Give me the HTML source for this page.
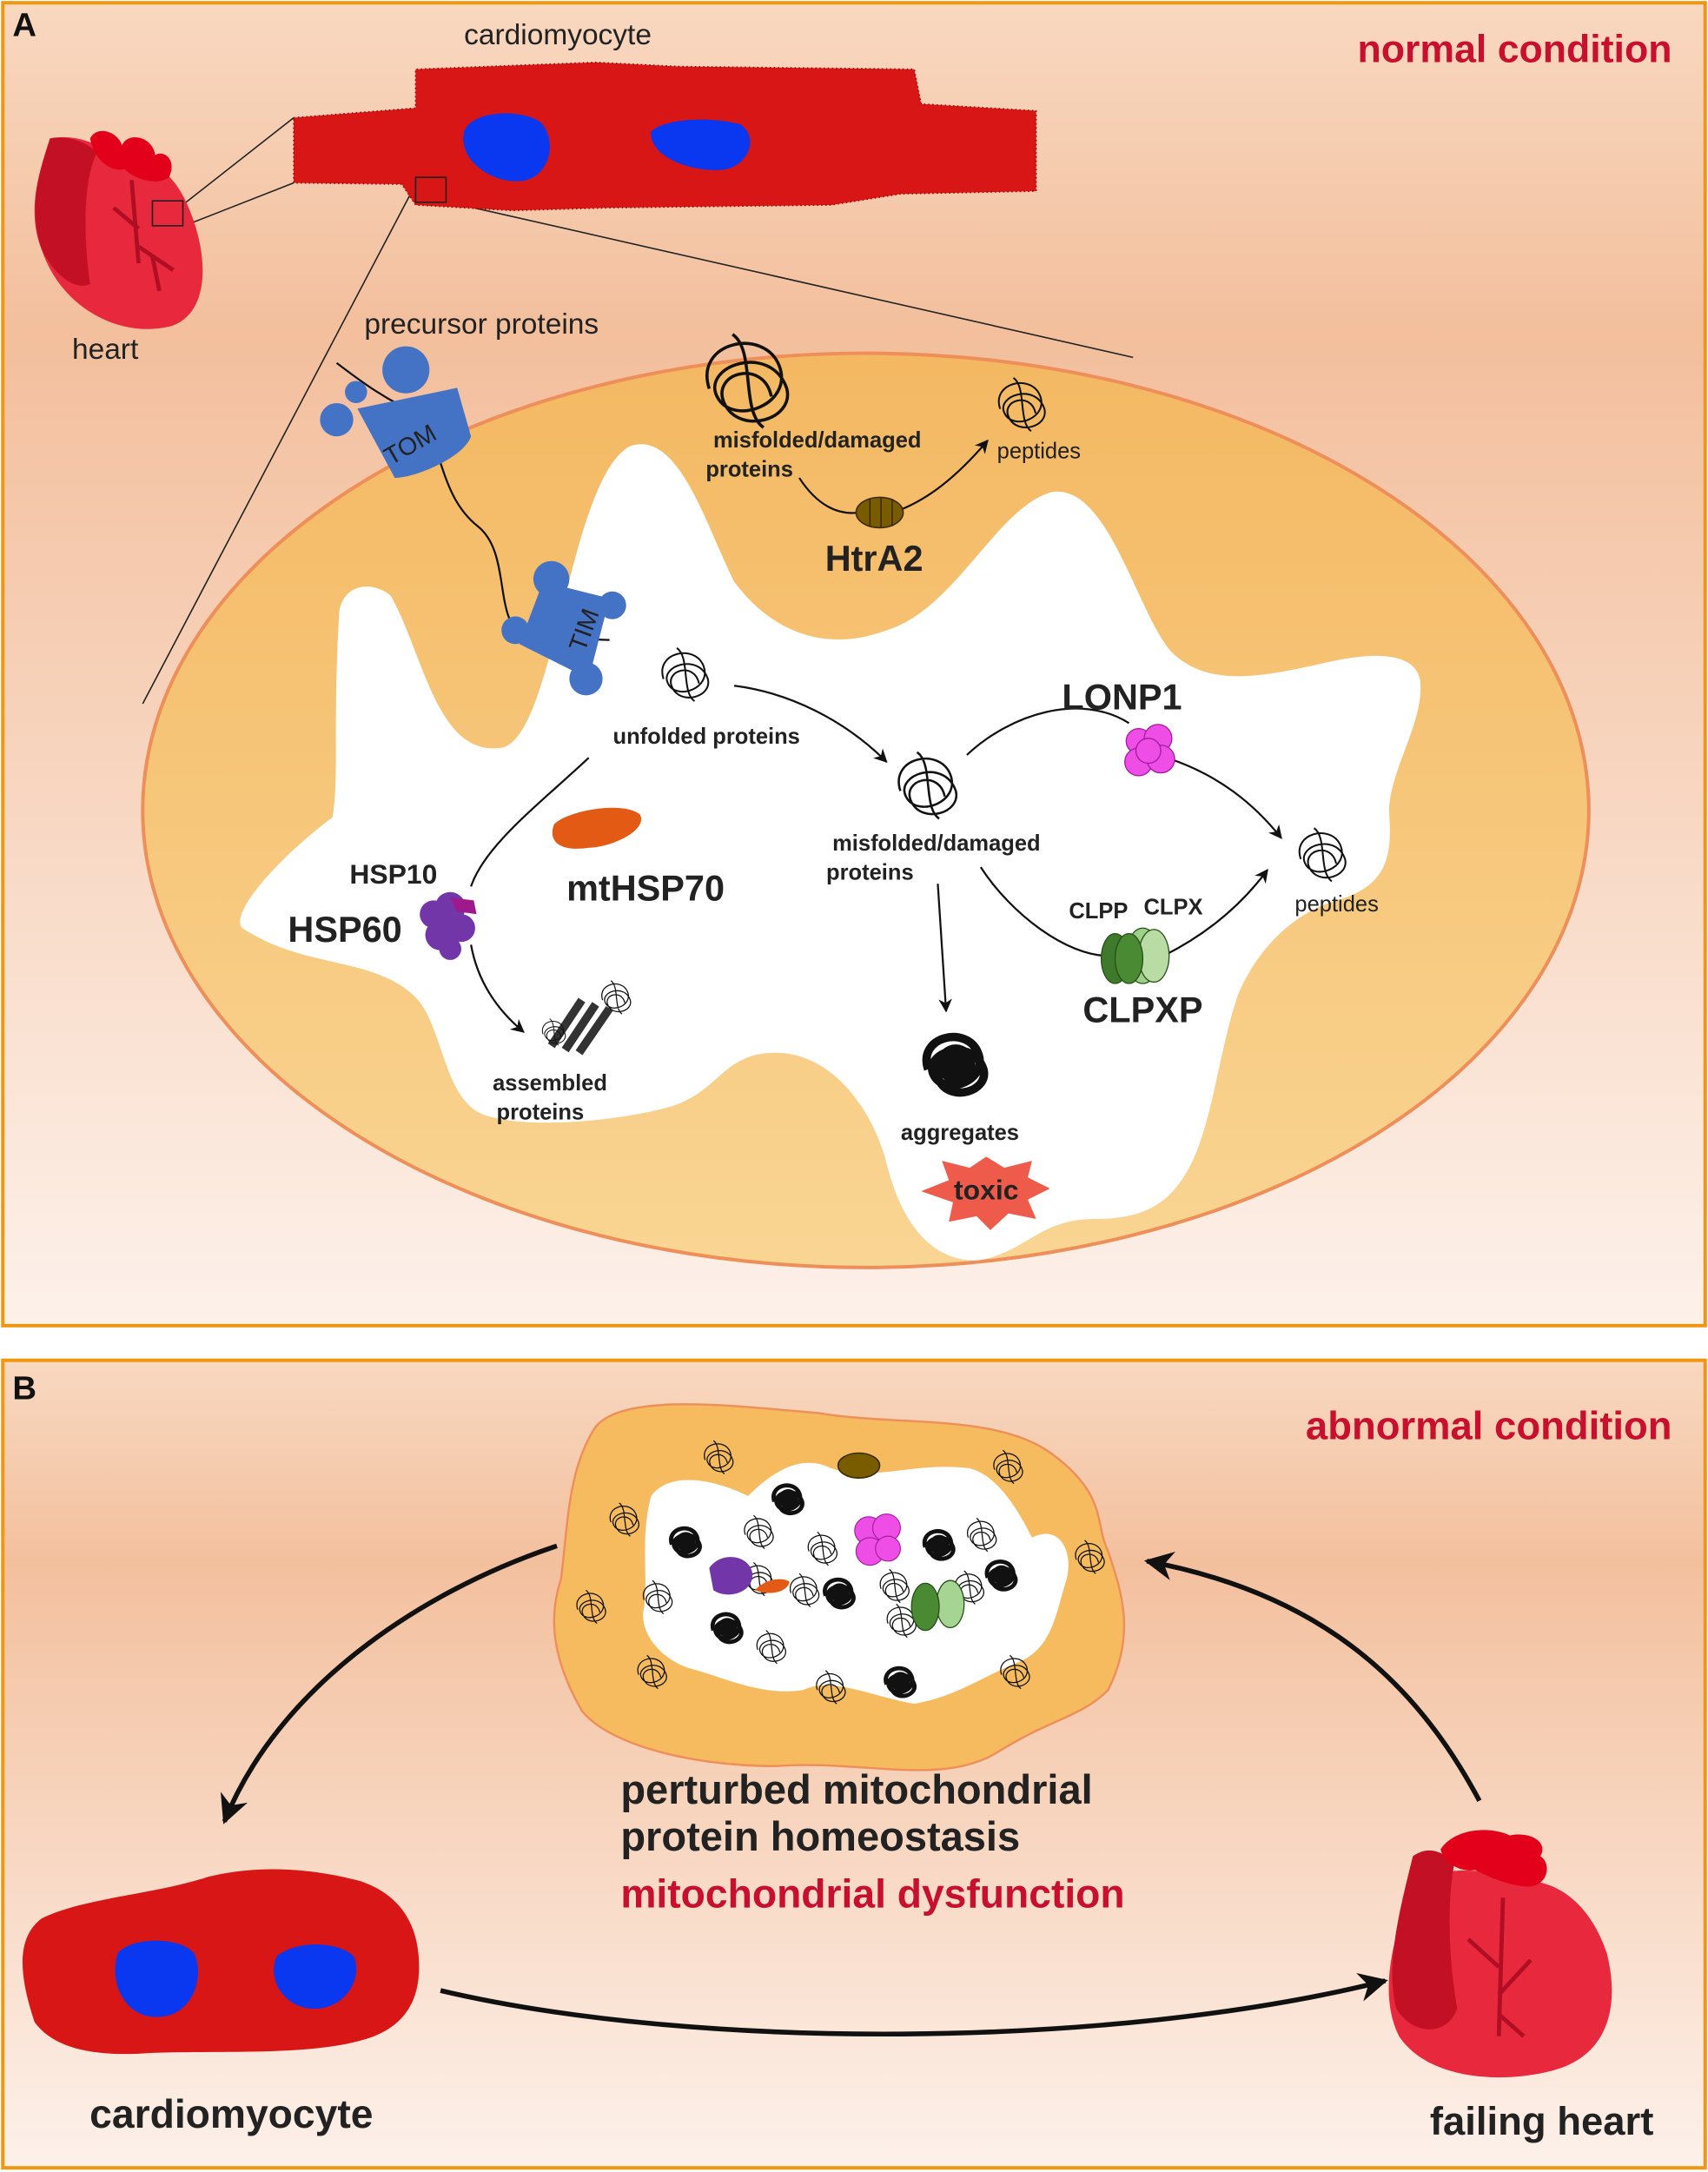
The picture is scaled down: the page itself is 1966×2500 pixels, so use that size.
<!DOCTYPE html>
<html><head><meta charset="utf-8"><style>html,body{margin:0;padding:0;background:#fff}svg{display:block}text{font-family:"Liberation Sans",Arial,sans-serif}</style></head>
<body>
<svg width="1966" height="2500" viewBox="0 0 1233 1568" xmlns="http://www.w3.org/2000/svg">
<defs>
<linearGradient id="bgA" x1="0" y1="0" x2="0" y2="1"><stop offset="0" stop-color="#f8d8c0"/><stop offset="0.25" stop-color="#f3bf9d"/><stop offset="1" stop-color="#fdf1ea"/></linearGradient>
<linearGradient id="bgB" x1="0" y1="0" x2="0" y2="1"><stop offset="0" stop-color="#f8d8c0"/><stop offset="0.25" stop-color="#f3c09e"/><stop offset="1" stop-color="#fdf1ea"/></linearGradient>
<linearGradient id="mito" x1="0" y1="0" x2="0" y2="1"><stop offset="0" stop-color="#f4b862"/><stop offset="1" stop-color="#f9d593"/></linearGradient>
<marker id="ar" viewBox="0 0 10 10" refX="9" refY="5" markerWidth="7" markerHeight="7" orient="auto"><path d="M0,0 L10,5 L0,10 L3,5z" fill="#111"/></marker>
<marker id="arB" viewBox="0 0 10 10" refX="9" refY="5" markerWidth="6" markerHeight="6" orient="auto"><path d="M0,0 L10,5 L0,10 L3,5z" fill="#111"/></marker>
<g id="tangle"><path d="M-10,2 C-14,-10 4,-14 8,-4 C12,6 -4,12 -8,4 C-12,-4 6,-10 10,2 C12,10 -2,14 -6,6 C-10,-2 4,-6 6,4 M-4,-12 C2,-8 -2,8 4,12" fill="none" stroke="#111" stroke-width="0.8"/></g>
<g id="agg"><path d="M-10,2 C-14,-10 4,-14 8,-4 C12,6 -4,12 -8,4 C-12,-4 6,-10 10,2 C12,10 -2,14 -6,6 C-10,-2 4,-6 6,4" fill="none" stroke="#111" stroke-width="3"/><circle r="7" fill="#111"/></g>
</defs>

<rect x="2" y="2" width="1229" height="955" fill="url(#bgA)" stroke="#f0960f" stroke-width="2.5"/>
<text x="9" y="26" font-size="24" font-weight="bold" fill="#111">A</text>
<text x="1207" y="45" font-size="28" font-weight="bold" fill="#c8102e" text-anchor="end">normal condition</text>

<line x1="300" y1="133" x2="103" y2="508" stroke="#222" stroke-width="1"/>
<line x1="320" y1="145" x2="818" y2="258" stroke="#222" stroke-width="1"/>
<line x1="212" y1="85" x2="133" y2="147" stroke="#222" stroke-width="1"/>
<line x1="212" y1="132" x2="133" y2="163" stroke="#222" stroke-width="1"/>

<g>
<path d="M36,100 C30,120 18,150 30,180 C45,225 90,245 125,235 C150,225 150,190 140,160 C130,130 115,115 95,118 C80,110 60,95 36,100z" fill="#e8283d"/>
<path d="M36,100 C28,125 20,150 30,180 C40,200 55,210 65,205 C60,170 60,130 70,110 C60,100 45,98 36,100z" fill="#c31024"/>
<path d="M65,100 C70,90 85,95 88,105 C92,95 110,98 112,112 C118,108 128,115 122,128 C112,135 95,128 90,122 C80,125 68,115 65,100z" fill="#e2001a"/>
<path d="M95,130 L100,190 M100,165 L82,150 M100,178 L125,195 M110,185 L115,210" stroke="#b00e22" stroke-width="3" fill="none"/>
<rect x="110" y="145" width="22" height="18" fill="none" stroke="#222" stroke-width="1"/>
</g>
<text x="52" y="259" font-size="21" fill="#222">heart</text>

<text x="335" y="32" font-size="21" fill="#222">cardiomyocyte</text>
<path d="M212,85 L300,78 L300,50 L430,45 L490,48 L660,50 L665,75 L748,80 L748,138 L650,140 L600,148 L440,150 L370,152 L300,148 L290,133 L212,132z" fill="#d81616"/>
<path d="M212,85 L300,78 L300,50 L430,45 L490,48 L660,50 L665,75 L748,80 L748,138 L650,140 L600,148 L440,150 L370,152 L300,148 L290,133 L212,132z" fill="none" stroke="#a00" stroke-width="1" stroke-dasharray="1 2"/>
<path d="M335,95 C340,80 375,78 390,88 C402,100 398,125 380,130 C360,135 330,118 335,95z" fill="#0a37f0"/>
<path d="M470,95 C480,85 515,84 535,90 C548,100 540,118 525,122 C505,126 468,115 470,95z" fill="#0a37f0"/>
<rect x="300" y="128" width="22" height="18" fill="none" stroke="#222" stroke-width="1"/>

<ellipse cx="625" cy="585" rx="522" ry="330" fill="url(#mito)" stroke="#ee8e58" stroke-width="2.5"/>
<path d="M245,440 C250,420 270,420 282,430 C305,470 315,545 360,540 C400,540 410,345 455,322 C490,310 510,380 530,420 C560,460 600,470 640,455 C690,440 720,365 760,355 C800,350 820,440 845,470 C870,495 905,490 950,480 C990,470 1020,470 1025,490 C1030,520 1000,560 1003,590 C1005,620 1000,640 965,650 C930,660 905,690 893,720 C880,760 875,810 860,840 C845,870 825,880 790,880 C750,880 740,905 705,910 C670,910 650,880 640,840 C630,800 600,760 560,760 C520,760 520,790 480,800 C440,810 380,815 350,805 C320,795 320,740 300,720 C270,690 220,700 175,670 C165,660 200,620 240,590 C245,560 240,520 245,440z" fill="#fff"/>

<text x="263" y="241" font-size="21" fill="#222">precursor proteins</text>
<path d="M243,262 C260,275 280,290 305,300 C320,330 320,360 345,380 C370,400 355,450 380,460 L440,462" fill="none" stroke="#111" stroke-width="1.4"/>
<g fill="#4472c4">
<circle cx="293" cy="267" r="17"/><circle cx="243" cy="303" r="12"/><circle cx="257" cy="283" r="8"/>
<path d="M258,295 L330,280 L340,315 C335,330 300,345 285,345 z"/>
<circle cx="398" cy="418" r="13"/><circle cx="442" cy="437" r="10"/><circle cx="372" cy="455" r="10"/><circle cx="423" cy="490" r="12"/>
<path d="M392,420 L440,432 L425,490 L375,465z"/>
</g>
<text x="275" y="330" font-size="18" fill="#222" transform="rotate(-30 290 320)">TOM</text>
<text x="400" y="470" font-size="18" fill="#222" transform="rotate(-70 412 455)">TIM</text>

<g transform="translate(540,275) scale(2.8)"><use href="#tangle"/></g>
<text x="590" y="323" font-size="16" font-weight="bold" fill="#222" text-anchor="middle">misfolded/damaged</text>
<text x="541" y="344" font-size="16" font-weight="bold" fill="#222" text-anchor="middle">proteins</text>
<path d="M577,345 C590,365 605,372 620,370" fill="none" stroke="#111" stroke-width="1.4"/>
<path d="M650,368 C670,360 690,345 713,318" fill="none" stroke="#111" stroke-width="1.4" marker-end="url(#ar)"/>
<ellipse cx="635" cy="370" rx="17" ry="11" fill="#7a5c00" stroke="#3a2a00"/>
<path d="M628,360 L628,380 M636,359 L636,381 M644,360 L644,380" stroke="#3a2a00"/>
<text x="631" y="412" font-size="26" font-weight="bold" fill="#222" text-anchor="middle">HtrA2</text>
<g transform="translate(738,292) scale(1.6)"><use href="#tangle"/></g>
<text x="750" y="331" font-size="16" fill="#222" text-anchor="middle">peptides</text>

<g transform="translate(495,487) scale(1.6)"><use href="#tangle"/></g>
<text x="510" y="537" font-size="16" font-weight="bold" fill="#222" text-anchor="middle">unfolded proteins</text>
<path d="M530,495 C570,500 610,520 640,550" fill="none" stroke="#111" stroke-width="1.4" marker-end="url(#ar)"/>
<path d="M425,547 C390,580 350,610 340,640" fill="none" stroke="#111" stroke-width="1.4"/>

<path d="M400,595 C410,585 450,578 462,588 C468,600 440,612 425,612 C405,615 395,608 400,595z" fill="#e35a14"/>
<text x="466" y="650" font-size="26" font-weight="bold" fill="#222" text-anchor="middle">mtHSP70</text>
<text x="284" y="638" font-size="20" font-weight="bold" fill="#222" text-anchor="middle">HSP10</text>
<text x="249" y="680" font-size="26" font-weight="bold" fill="#222" text-anchor="middle">HSP60</text>
<g fill="#7236a8"><circle cx="313" cy="660" r="10"/><circle cx="325" cy="655" r="11"/><circle cx="318" cy="675" r="11"/><circle cx="333" cy="670" r="10"/><circle cx="325" cy="685" r="8"/></g>
<path d="M325,648 L342,650 L344,660 L330,658z" fill="#9e1a8c"/>
<path d="M340,682 C345,710 360,730 378,745" fill="none" stroke="#111" stroke-width="1.4" marker-end="url(#ar)"/>
<g stroke="#333" stroke-width="6"><line x1="398" y1="755" x2="420" y2="722"/><line x1="408" y1="758" x2="430" y2="725"/><line x1="418" y1="760" x2="440" y2="728"/></g>
<g transform="translate(445,720)"><use href="#tangle"/></g><g transform="translate(400,745) scale(0.8)"><use href="#tangle"/></g>
<text x="397" y="787" font-size="16" font-weight="bold" fill="#222" text-anchor="middle">assembled</text>
<text x="390" y="808" font-size="16" font-weight="bold" fill="#222" text-anchor="middle">proteins</text>

<g transform="translate(670,567) scale(2)"><use href="#tangle"/></g>
<text x="676" y="614" font-size="16" font-weight="bold" fill="#222" text-anchor="middle">misfolded/damaged</text>
<text x="628" y="635" font-size="16" font-weight="bold" fill="#222" text-anchor="middle">proteins</text>
<path d="M698,545 C730,515 780,500 815,522" fill="none" stroke="#111" stroke-width="1.4"/>
<path d="M845,548 C880,560 905,580 925,605" fill="none" stroke="#111" stroke-width="1.4" marker-end="url(#ar)"/>
<path d="M708,626 C730,660 770,690 800,690" fill="none" stroke="#111" stroke-width="1.4"/>
<path d="M840,690 C870,675 895,655 915,628" fill="none" stroke="#111" stroke-width="1.4" marker-end="url(#ar)"/>
<path d="M677,638 L683,730" fill="none" stroke="#111" stroke-width="1.4" marker-end="url(#ar)"/>
<text x="810" y="512" font-size="26" font-weight="bold" fill="#222" text-anchor="middle">LONP1</text>
<g fill="#ef4ee6" stroke="#a01a9e" stroke-width="0.8"><circle cx="822" cy="535" r="9"/><circle cx="836" cy="533" r="10"/><circle cx="822" cy="550" r="10"/><circle cx="838" cy="548" r="10"/><circle cx="829" cy="542" r="9"/></g>
<g transform="translate(955,617) scale(1.6)"><use href="#tangle"/></g>
<text x="965" y="658" font-size="16" fill="#222" text-anchor="middle">peptides</text>
<text x="793" y="663" font-size="16" font-weight="bold" fill="#222" text-anchor="middle">CLPP</text>
<text x="847" y="660" font-size="16" font-weight="bold" fill="#222" text-anchor="middle">CLPX</text>
<g stroke="#234d16" stroke-width="0.8"><ellipse cx="825" cy="690" rx="12" ry="20" fill="#9fd08a"/><ellipse cx="833" cy="690" rx="11" ry="19" fill="#b8dca4"/><ellipse cx="805" cy="692" rx="10" ry="18" fill="#3f7a2c"/><ellipse cx="815" cy="692" rx="10" ry="18" fill="#4a8a33"/></g>
<text x="825" y="738" font-size="26" font-weight="bold" fill="#222" text-anchor="middle">CLPXP</text>
<g transform="translate(690,768) scale(2)"><use href="#agg"/></g>
<text x="693" y="823" font-size="16" font-weight="bold" fill="#222" text-anchor="middle">aggregates</text>
<path d="M712,835 L725,843 L745,838 L742,850 L758,858 L742,866 L748,880 L728,876 L715,888 L705,878 L685,882 L688,868 L665,860 L685,852 L680,838 L700,843z" fill="#ef5b4a"/>
<text x="712" y="866" font-size="20" font-weight="bold" fill="#222" text-anchor="middle">toxic</text>

<rect x="2" y="982" width="1229" height="583" fill="url(#bgB)" stroke="#f0960f" stroke-width="2.5"/>
<text x="9" y="1010" font-size="24" font-weight="bold" fill="#111">B</text>
<text x="1207" y="1039" font-size="28.5" font-weight="bold" fill="#c8102e" text-anchor="end">abnormal condition</text>

<path d="M430,1030 C450,1005 530,1015 590,1020 C650,1030 720,1020 760,1050 C800,1080 790,1100 800,1120 C810,1150 820,1180 800,1220 C780,1240 760,1240 720,1265 C680,1290 620,1270 560,1275 C500,1275 440,1260 420,1235 C400,1200 395,1170 405,1140 C410,1100 410,1060 430,1030z" fill="#f5bb5e" stroke="#ee8e58" stroke-width="1.5"/>
<path d="M470,1080 C485,1060 520,1070 540,1080 C560,1060 580,1050 600,1060 C630,1070 660,1055 700,1060 C720,1065 735,1090 745,1110 C765,1100 775,1120 770,1140 C762,1165 760,1190 735,1200 C710,1210 690,1225 660,1230 C630,1225 600,1210 580,1220 C550,1225 520,1210 500,1205 C480,1200 460,1180 465,1160 C468,1140 462,1110 470,1080z" fill="#fff"/>
<g>
<use href="#tangle" transform="translate(519,1052)"/><use href="#tangle" transform="translate(728,1059)"/><use href="#tangle" transform="translate(451,1097)"/><use href="#tangle" transform="translate(548,1106)"/><use href="#tangle" transform="translate(594,1118)"/><use href="#tangle" transform="translate(581,1148)"/><use href="#tangle" transform="translate(548,1140)"/><use href="#tangle" transform="translate(475,1153)"/><use href="#tangle" transform="translate(646,1145)"/><use href="#tangle" transform="translate(709,1108)"/><use href="#tangle" transform="translate(651,1170)"/><use href="#tangle" transform="translate(787,1124)"/><use href="#tangle" transform="translate(700,1146)"/><use href="#tangle" transform="translate(427,1160)"/><use href="#tangle" transform="translate(557,1189)"/><use href="#tangle" transform="translate(471,1207)"/><use href="#tangle" transform="translate(733,1207)"/><use href="#tangle" transform="translate(600,1218)"/>
<use href="#agg" transform="translate(569,1082)"/><use href="#agg" transform="translate(495,1113)"/><use href="#agg" transform="translate(678,1115)"/><use href="#agg" transform="translate(723,1137)"/><use href="#agg" transform="translate(606,1150)"/><use href="#agg" transform="translate(525,1175)"/><use href="#agg" transform="translate(650,1214)"/>
</g>
<ellipse cx="620" cy="1058" rx="15" ry="9" fill="#7a5c00" stroke="#3a2a00"/>
<g fill="#ef4ee6" stroke="#a01a9e" stroke-width="0.7"><circle cx="627" cy="1105" r="10"/><circle cx="640" cy="1103" r="10"/><circle cx="628" cy="1120" r="10"/><circle cx="641" cy="1118" r="9"/></g>
<g stroke="#234d16" stroke-width="0.8"><ellipse cx="686" cy="1158" rx="10" ry="17" fill="#a6d493"/><ellipse cx="668" cy="1160" rx="10" ry="17" fill="#4a8a33"/></g>
<path d="M512,1132 C520,1120 540,1122 543,1135 C545,1150 525,1155 515,1148z" fill="#7236a8"/>
<path d="M545,1148 C552,1140 565,1138 570,1142 C568,1150 555,1152 545,1148z" fill="#e35a14"/>

<text x="448" y="1302" font-size="29.5" font-weight="bold" fill="#222">perturbed mitochondrial</text>
<text x="448" y="1336" font-size="29.5" font-weight="bold" fill="#222">protein homeostasis</text>
<text x="448" y="1377" font-size="29" font-weight="bold" fill="#c8102e">mitochondrial dysfunction</text>

<path d="M402,1116 C300,1150 200,1220 162,1315" fill="none" stroke="#111" stroke-width="3.5" marker-end="url(#arB)"/>
<path d="M1068,1300 C1020,1210 950,1150 828,1127" fill="none" stroke="#111" stroke-width="3.5" marker-end="url(#arB)"/>
<path d="M318,1437 C500,1480 800,1480 1000,1430" fill="none" stroke="#111" stroke-width="3.5" marker-end="url(#arB)"/>

<path d="M30,1385 C60,1370 110,1368 150,1355 C190,1345 230,1350 260,1358 C290,1368 300,1390 302,1410 C305,1440 295,1460 270,1470 C230,1485 160,1480 110,1482 C70,1485 40,1480 25,1460 C15,1430 10,1400 30,1385z" fill="#d81616"/>
<path d="M85,1410 C95,1398 130,1398 140,1410 C148,1425 140,1455 115,1456 C90,1458 78,1430 85,1410z" fill="#0a37f0"/>
<path d="M200,1412 C215,1400 245,1402 255,1412 C262,1425 252,1448 230,1450 C205,1452 192,1428 200,1412z" fill="#0a37f0"/>
<text x="167" y="1536" font-size="29" font-weight="bold" fill="#222" text-anchor="middle">cardiomyocyte</text>

<g>
<path d="M1020,1360 C1005,1400 995,1440 1010,1470 C1030,1500 1080,1505 1120,1495 C1160,1485 1170,1450 1160,1410 C1150,1380 1130,1360 1105,1358 C1080,1350 1040,1345 1020,1360z" fill="#e8283d"/>
<path d="M1020,1340 C1010,1380 1000,1420 1008,1450 C1020,1470 1045,1470 1052,1450 C1045,1410 1045,1370 1050,1345 C1040,1335 1030,1333 1020,1340z" fill="#c31024"/>
<path d="M1040,1335 C1050,1320 1075,1318 1090,1325 C1105,1322 1118,1330 1112,1340 C1120,1345 1118,1360 1105,1362 C1090,1362 1075,1355 1065,1350 C1055,1352 1042,1345 1040,1335z" fill="#e2001a"/>
<path d="M1085,1370 L1082,1470 M1082,1420 L1060,1400 M1082,1440 L1105,1415 M1083,1455 L1100,1470" stroke="#b00e22" stroke-width="3" fill="none"/>
</g>
<text x="1113" y="1541" font-size="28.5" font-weight="bold" fill="#222" text-anchor="middle">failing heart</text>
</svg>
</body></html>
